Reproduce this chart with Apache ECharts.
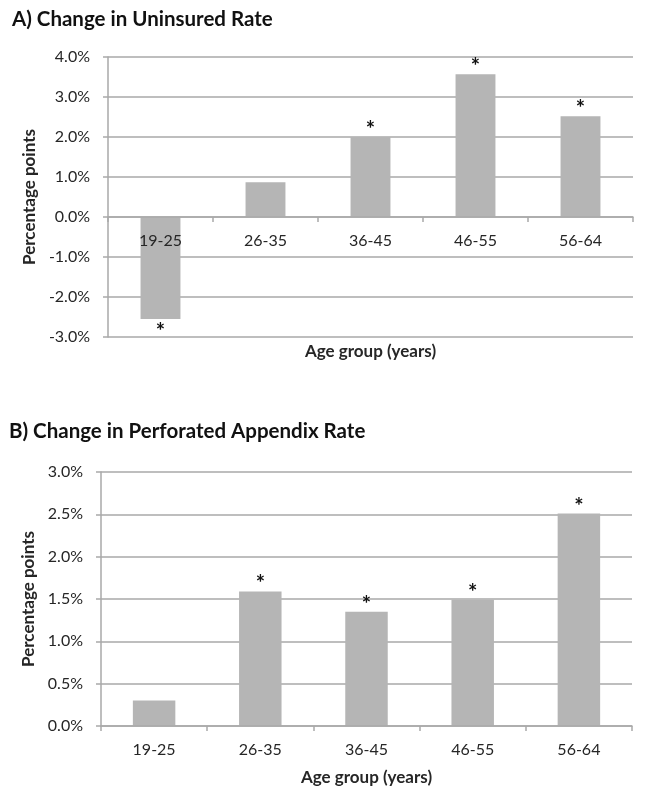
<!DOCTYPE html>
<html><head><meta charset="utf-8">
<script src="https://cdn.jsdelivr.net/npm/echarts@6/dist/echarts.min.js"></script>
<style>html,body{margin:0;padding:0;background:#fff}#c{width:645px;height:798px}</style>
</head><body><div id="c"></div>
<script>
const categories = ['19-25', '26-35', '36-45', '46-55', '56-64'];
const uninsuredChange = [-2.55, 0.87, 2.0, 3.57, 2.52];
const uninsuredSignificant = [true, false, true, true, true];
const perforatedChange = [0.30, 1.59, 1.35, 1.49, 2.51];
const perforatedSignificant = [false, true, true, true, true];
const titleA = 'A) Change in Uninsured Rate';
const titleB = 'B) Change in Perforated Appendix Rate';
const yAxisName = 'Percentage points';
const xAxisName = 'Age group (years)';

const FONT = 'Lato';
const GRID = '#a9a9a9';
const BAR = '#b5b5b5';
const TXT = '#262626';

function barData(vals, sig) {
  return vals.map((v, i) => ({
    value: v,
    label: {
      show: sig[i],
      position: v < 0 ? 'bottom' : 'top',
      distance: v < 0 ? 2 : -4
    }
  }));
}

function xAx(gi, gap, offset) {
  return {
    type: 'category', gridIndex: gi, data: categories, offset: offset, z: 5,
    name: xAxisName, nameLocation: 'middle', nameGap: gap,
    nameTextStyle: { fontFamily: FONT, fontSize: 17, fontWeight: 'bold', color: TXT },
    axisLine: { onZero: false, lineStyle: { color: GRID, width: 1.5 } },
    axisTick: { show: true, length: 5, lineStyle: { color: GRID, width: 1.5 } },
    axisLabel: { fontFamily: FONT, fontSize: 16, color: TXT, margin: 16 }
  };
}
function yAx(gi, min, max, interval, gap) {
  return {
    type: 'value', gridIndex: gi, min: min, max: max, interval: interval,
    name: yAxisName, nameLocation: 'middle', nameGap: gap, nameRotate: 90,
    nameTextStyle: { fontFamily: FONT, fontSize: 17, fontWeight: 'bold', color: TXT },
    axisLine: { show: true, lineStyle: { color: GRID, width: 1.5 } },
    axisTick: { show: true, length: 5, lineStyle: { color: GRID, width: 1.5 } },
    splitLine: { show: true, lineStyle: { color: GRID, width: 1.5 } },
    axisLabel: { fontFamily: FONT, fontSize: 16, color: TXT, margin: 18,
      formatter: v => v.toFixed(1) + '%' }
  };
}
const starLabel = { formatter: '*', fontFamily: FONT, fontSize: 22, fontWeight: 'bold', color: '#111' };

const chart = echarts.init(document.getElementById('c'), null, { renderer: 'canvas' });
chart.setOption({
  animation: false,
  backgroundColor: '#fff',
  title: [
    { text: titleA, left: 12, top: 9, padding: 0, textStyle: { fontFamily: FONT, fontSize: 20.5, fontWeight: 'bold', color: '#111' } },
    { text: titleB, left: 9, top: 421, padding: 0, textStyle: { fontFamily: FONT, fontSize: 20.5, fontWeight: 'bold', color: '#111' } }
  ],
  grid: [
    { left: 108, right: 12, top: 57, height: 280 },
    { left: 101, right: 13, top: 472, height: 254 }
  ],
  xAxis: [xAx(0, 126, -120), xAx(1, 43, 0)],
  yAxis: [yAx(0, -3, 4, 1, 60), yAx(1, 0, 3, 0.5, 53)],
  series: [
    { type: 'bar', xAxisIndex: 0, yAxisIndex: 0, barWidth: '38%',
      itemStyle: { color: BAR }, label: starLabel,
      data: barData(uninsuredChange, uninsuredSignificant) },
    { type: 'bar', xAxisIndex: 1, yAxisIndex: 1, barWidth: '40%',
      itemStyle: { color: BAR }, label: starLabel,
      data: barData(perforatedChange, perforatedSignificant) }
  ]
});
</script></body></html>
